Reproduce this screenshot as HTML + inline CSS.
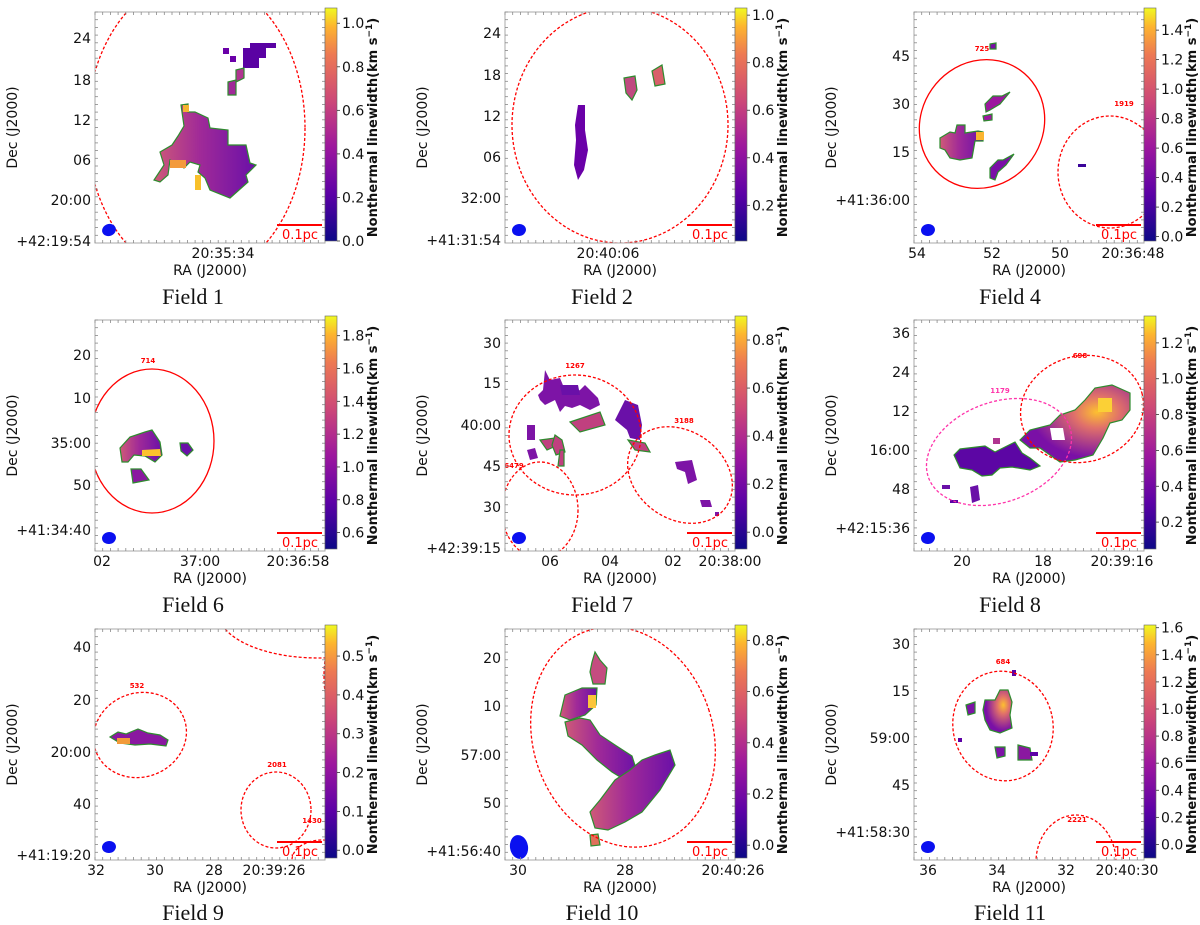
<!DOCTYPE html>
<html><head><meta charset="utf-8">
<style>
html,body{margin:0;padding:0;background:#fff;}
svg{display:block;}
text{font-family:"DejaVu Sans","Liberation Sans",sans-serif;}
.cap{font-family:"Liberation Serif",serif;font-size:22px;}
</style></head>
<body>
<svg id="fig" width="1200" height="925" viewBox="0 0 1200 925" xmlns="http://www.w3.org/2000/svg">
<defs>
<linearGradient id="plasma" x1="0" y1="1" x2="0" y2="0">
<stop offset="0" stop-color="#0d0887"/><stop offset="0.2" stop-color="#5c01a6"/>
<stop offset="0.4" stop-color="#9c179e"/><stop offset="0.6" stop-color="#cc4778"/>
<stop offset="0.8" stop-color="#ed7953"/><stop offset="0.92" stop-color="#fdb42f"/>
<stop offset="1" stop-color="#f0f921"/></linearGradient>
<linearGradient id="mixA" x1="0" y1="0" x2="1" y2="0">
<stop offset="0" stop-color="#cf5a78"/><stop offset="0.45" stop-color="#a02a98"/><stop offset="1" stop-color="#6a10a8"/></linearGradient>
<radialGradient id="hot" cx="0.7" cy="0.35" r="0.6">
<stop offset="0" stop-color="#fdc030"/><stop offset="0.35" stop-color="#e0706a"/><stop offset="1" stop-color="#7a10a6"/></radialGradient>
</defs>
<g id="root"></g>
</svg>
<script>
// ---------- data ----------
const fieldNames = ["Field 1","Field 2","Field 4","Field 6","Field 7","Field 8","Field 9","Field 10","Field 11"];
const yTickLabels = [
 ["24","18","12","06","20:00","+42:19:54"],
 ["24","18","12","06","32:00","+41:31:54"],
 ["45","30","15","+41:36:00"],
 ["20","10","35:00","50","+41:34:40"],
 ["30","15","40:00","45","30","+42:39:15"],
 ["36","24","12","16:00","48","+42:15:36"],
 ["40","20","20:00","40","+41:19:20"],
 ["20","10","57:00","50","+41:56:40"],
 ["30","15","59:00","45","+41:58:30"]];
const yTickPos = [
 [38,80,120,160,200,241],[33,75,116,157,198,240],[56,104,152,200],
 [355,398,443,485,530],[343,383,425,466,507,548],[333,372,411,450,489,528],
 [647,700,752,804,855],[658,706,755,803,851],[644,691,738,785,832]];
const xTickLabels = [["20:35:34"],["20:40:06"],["54","52","50","20:36:48"],
 ["02","37:00","20:36:58"],["06","04","02","20:38:00"],["20","18","20:39:16"],
 ["32","30","28","20:39:26"],["30","28","20:40:26"],["36","34","32","20:40:30"]];
const xTickPos = [[223],[608],[917,992,1060,1133],[102,200,298],[550,610,673,730],
 [962,1043,1122],[96,155,214,274],[518,625,733],[928,997,1066,1127]];
const cbarTicks = [
 [0.0,0.2,0.4,0.6,0.8,1.0],[0.2,0.4,0.6,0.8,1.0],[0.0,0.2,0.4,0.6,0.8,1.0,1.2,1.4],
 [0.6,0.8,1.0,1.2,1.4,1.6,1.8],[0.0,0.2,0.4,0.6,0.8],[0.2,0.4,0.6,0.8,1.0,1.2],
 [0.0,0.1,0.2,0.3,0.4,0.5],[0.0,0.2,0.4,0.6,0.8],[0.0,0.2,0.4,0.6,0.8,1.0,1.2,1.4,1.6]];
const cbarMin = [0.0,0.05,-0.03,0.5,-0.07,0.05,-0.02,-0.05,-0.1];
const cbarMax = [1.07,1.03,1.55,1.92,0.9,1.35,0.58,0.86,1.62];
const decimals = [1,1,1,1,1,1,1,1,1];

// ---------- geometry ----------
const colX = [95,505,914];
const rowY = [12,320,629];
const PW = 230, PH = 231;
const capY = [304,612,920];
const capX = [193,602,1010];

const root = document.getElementById('root');
const NS = "http://www.w3.org/2000/svg";
function mk(tag, attrs, parent){
  const e = document.createElementNS(NS, tag);
  for (const k in attrs) e.setAttribute(k, attrs[k]);
  (parent||root).appendChild(e);
  return e;
}
function txt(s, attrs, parent){ const t = mk('text', attrs, parent); t.textContent = s; return t; }

// blobs / ellipses per panel (absolute coords)
const overlays = [
 // Field 1
 {ell:[{cx:196,cy:128,rx:109,ry:150,rot:0,dash:true,c:"#f00"}],
  blobs:[
   {p:"223,48 229,48 229,54 223,54",f:"#6a00a8"},{p:"230,56 236,56 236,62 230,62",f:"#6a00a8"},
   {p:"243,48 250,48 250,43 276,43 276,48 266,48 266,58 259,58 259,68 243,68 243,56",f:"#5a02a3"},
   {p:"236,70 244,68 244,78 236,82",f:"#b03590",g:1},{p:"228,82 236,80 236,95 228,95",f:"#a02a98",g:1},
   {p:"181,105 188,104 188,112 195,112 208,118 210,128 228,130 228,145 246,145 250,163 256,165 246,175 248,182 230,198 210,190 205,178 198,172 200,165 190,162 184,168 170,160 168,175 160,182 154,180 164,165 160,152 172,145 178,136 184,126",f:"url(#mixA)",g:1},
   {p:"170,160 186,160 186,168 170,168",f:"#f39a3c"},{p:"195,175 201,175 201,190 195,190",f:"#f8c02a"},{p:"183,105 189,105 189,112 183,112",f:"#f4b530"}]},
 // Field 2
 {ell:[{cx:620,cy:125,rx:108,ry:118,rot:0,dash:true,c:"#f00"}],
  blobs:[
   {p:"578,105 585,105 585,130 588,150 584,170 578,180 574,165 576,140 575,125",f:"#6a00a8"},
   {p:"624,78 635,76 637,90 632,100 626,93",f:"#c04a80",g:1},
   {p:"652,71 662,65 665,84 655,86",f:"#d8606a",g:1}]},
 // Field 4
 {ell:[{cx:982,cy:124,rx:61,ry:66,rot:35,dash:false,c:"#f00"},{cx:1110,cy:172,rx:52,ry:56,rot:0,dash:true,c:"#f00"}],
  lab:[["725",982,51,"#f00"],["1919",1124,106,"#f00"]],
  blobs:[
   {p:"940,138 950,132 955,133 957,125 965,125 965,133 978,131 983,132 983,141 975,141 972,158 960,160 950,158 945,150 940,148",f:"url(#mixA)",g:1},
   {p:"976,132 984,132 984,140 976,140",f:"#fbb530"},
   {p:"985,104 993,96 1002,96 1010,92 1000,104 990,110 986,112",f:"#9c179e",g:1},
   {p:"983,116 992,114 992,120 984,121",f:"#9c179e",g:1},
   {p:"990,168 998,160 1003,160 1014,154 1006,165 998,172 995,180 990,178",f:"#7a10a6",g:1},
   {p:"990,44 996,43 996,49 990,49",f:"#7a10a6",g:1},{p:"1078,164 1086,164 1086,167 1078,167",f:"#3b049a"}]},
 // Field 6
 {ell:[{cx:152,cy:441,rx:62,ry:72,rot:0,dash:false,c:"#f00"}],
  lab:[["714",148,363,"#f00"]],
  blobs:[
   {p:"120,448 130,437 145,432 152,430 160,442 162,455 155,462 145,456 134,455 128,462 122,462",f:"url(#mixA)",g:1},
   {p:"142,450 160,449 161,456 142,456",f:"#fcc22c"},
   {p:"180,443 188,443 193,450 187,456 181,451",f:"#6a10a8",g:1},
   {p:"131,469 141,469 149,480 133,483",f:"#8a18a0",g:1}]},
 // Field 7
 {ell:[{cx:575,cy:435,rx:66,ry:60,rot:0,dash:true,c:"#f00"},{cx:680,cy:475,rx:56,ry:44,rot:35,dash:true,c:"#f00"},{cx:540,cy:510,rx:38,ry:48,rot:0,dash:true,c:"#f00"}],
  lab:[["1267",575,368,"#f00"],["3188",684,423,"#f00"],["6479",514,468,"#f00"]],
  blobs:[
   {p:"545,370 550,380 560,378 567,395 575,392 580,390 585,385 590,390 598,398 600,405 590,410 580,405 572,408 565,406 560,412 555,400 545,405 540,400 538,395 543,390",f:"#7d14a6"},
   {p:"560,385 578,385 580,395 562,395",f:"#6a10a8"},
   {p:"570,422 600,412 605,425 580,432",f:"#c0407f",g:1},
   {p:"540,440 555,438 558,445 547,450",f:"#c0407f",g:1},
   {p:"555,435 562,440 565,452 556,455 552,445",f:"#c0407f",g:1},
   {p:"527,425 535,425 535,440 527,440",f:"#7d14a6"},
   {p:"527,450 535,448 538,458 530,460",f:"#7d14a6"},
   {p:"625,400 638,405 642,425 640,440 630,438 627,430 615,420 620,410",f:"#6a10a8"},
   {p:"628,440 645,443 650,452 635,450",f:"#c0407f",g:1},
   {p:"675,462 692,460 697,480 688,484 685,472 677,469",f:"#7d14a6"},
   {p:"700,500 710,500 712,507 702,507",f:"#7d14a6"},{p:"715,512 719,512 719,516 715,516",f:"#7d14a6"},
   {p:"560,450 564,450 564,466 558,466",f:"#c0407f",g:1}]},
 // Field 8
 {ell:[{cx:999,cy:452,rx:75,ry:50,rot:-20,dash:true,c:"#ff33aa"},{cx:1082,cy:409,rx:62,ry:53,rot:-15,dash:true,c:"#f00"}],
  lab:[["1179",1000,393,"#ff33aa"],["698",1080,358,"#f00"]],
  blobs:[
   {p:"954,455 960,449 985,446 995,452 1005,447 1015,442 1022,453 1030,458 1040,466 1030,470 1012,467 1000,468 992,475 982,476 972,470 960,468",f:"#5c06a4",g:1},
   {p:"1020,440 1030,430 1050,425 1060,415 1075,410 1085,400 1095,388 1112,385 1130,393 1130,410 1122,420 1110,423 1103,438 1093,455 1075,460 1060,462 1050,455 1040,448 1030,448",f:"url(#hot)",g:1},
   {p:"1050,428 1063,428 1065,440 1052,440",f:"#ffffff"},
   {p:"1098,398 1112,398 1112,412 1098,412",f:"#fbd036"},
   {p:"993,438 1000,438 1000,444 993,444",f:"#b03590"},
   {p:"970,487 978,485 980,500 972,503",f:"#6a10a8"},{p:"942,485 950,485 950,489 942,489",f:"#6a10a8"},
   {p:"950,500 958,500 958,503 950,503",f:"#5c01a6"}]},
 // Field 9
 {ell:[{cx:140,cy:735,rx:47,ry:42,rot:-20,dash:true,c:"#f00"},{cx:276,cy:810,rx:35,ry:38,rot:0,dash:true,c:"#f00"},{cx:322,cy:860,rx:30,ry:20,rot:0,dash:true,c:"#f00"},{cx:318,cy:612,rx:100,ry:46,rot:0,dash:true,c:"#f00"},{cx:334,cy:676,rx:10,ry:36,rot:0,dash:true,c:"#f00"}],
  lab:[["532",137,688,"#f00"],["2081",277,767,"#f00"],["1430",312,823,"#f00"]],
  blobs:[
   {p:"110,737 118,732 126,734 138,729 148,733 160,735 168,740 166,746 150,744 135,745 120,743",f:"#8a18a0",g:1},
   {p:"117,738 130,738 130,744 117,744",f:"#f29b3a"}]},
 // Field 10
 {ell:[{cx:623,cy:737,rx:90,ry:112,rot:-18,dash:true,c:"#f00"}],
  lab:[],
  blobs:[
   {p:"595,652 600,660 607,668 605,684 593,684 590,672 592,662",f:"#c44c80",g:1},
   {p:"565,695 582,688 597,688 596,705 585,715 570,720 560,716",f:"url(#mixA)",g:1},
   {p:"588,695 596,695 596,708 588,708",f:"#fbc53a"},
   {p:"565,722 580,718 590,720 600,735 615,745 632,756 638,775 625,780 612,772 597,760 582,745 568,736",f:"url(#mixA)",g:1},
   {p:"620,780 637,780 640,790 624,792",f:"#3b049a"},
   {p:"600,800 615,780 630,770 642,760 655,755 670,750 675,765 660,790 642,812 625,822 608,830 595,828 590,812",f:"url(#mixA)",g:1},
   {p:"590,835 598,834 600,845 591,846",f:"#e0705a",g:1}]},
 // Field 11
 {ell:[{cx:1003,cy:726,rx:50,ry:55,rot:-12,dash:true,c:"#f00"},{cx:1076,cy:862,rx:40,ry:47,rot:0,dash:true,c:"#f00"}],
  lab:[["684",1003,664,"#f00"],["2221",1077,822,"#f00"]],
  blobs:[
   {p:"985,700 995,700 1000,690 1008,690 1012,702 1010,715 1012,728 1000,733 990,730 985,720 983,710",f:"url(#hot)",g:1},
   {p:"966,705 975,702 975,713 968,715",f:"#7d14a6",g:1},
   {p:"995,747 1005,747 1005,756 997,758",f:"#7d14a6",g:1},
   {p:"1018,745 1030,748 1032,760 1018,760",f:"#8a18a0",g:1},
   {p:"1030,752 1038,752 1038,756 1030,756",f:"#5c01a6"},
   {p:"958,738 962,738 962,742 958,742",f:"#5c01a6"},
   {p:"1012,670 1016,670 1016,676 1012,676",f:"#5c01a6"}]}
];

function plasmaColor(){return null;}

for (let i=0;i<9;i++){
  const c = i%3, r = Math.floor(i/3);
  const x0 = colX[c], y0 = rowY[r], x1 = x0+PW, y1 = y0+PH;
  const g = mk('g', {});
  
  
  const clipId = 'clip'+i;
  const cp = mk('clipPath',{id:clipId}, g);
  mk('rect',{x:x0,y:y0,width:PW,height:PH},cp);
  const plot = mk('g',{'clip-path':'url(#'+clipId+')'},g);
  
  
  const ov = overlays[i];
  ov.blobs.forEach(b=>{
    const p = mk('polygon',{points:b.p,fill:b.f,stroke:b.g?"#2e8b2e":"none","stroke-width":b.g?1.2:0},plot);
    
    
  });
  ov.ell.forEach(e=>{
    const el = mk('ellipse',{cx:e.cx,cy:e.cy,rx:e.rx,ry:e.ry,fill:"none",stroke:e.c,"stroke-width":1.3,
      "stroke-dasharray":e.dash?"3,2":"none",transform:`rotate(${e.rot} ${e.cx} ${e.cy})`},plot);
    
    
  });
  (ov.lab||[]).forEach(l=>{
    const t = txt(l[0],{x:l[1],y:l[2],fill:l[3],"font-size":7,"font-weight":"bold","text-anchor":"middle"},plot);
    
    
  });
  // beam
  const beam = mk('ellipse',{cx:x0+14,cy:y1-13,rx:c===1&&r===2?9:7,ry:c===1&&r===2?12:6,fill:"#0a10f0",transform:`rotate(${c===0&&r===0?-20:-10} ${x0+14} ${y1-13})`},plot);
  
  
  // scale bar
  const sb = mk('line',{x1:x1-48,y1:y1-18,x2:x1-3,y2:y1-18,stroke:"#f00","stroke-width":2},plot);
  
  
  const sbt = txt("0.1pc",{x:x1-25,y:y1-4,fill:"#f00","font-size":13,"text-anchor":"middle"},plot);
  
  
  // frame
  const fr = mk('rect',{x:x0,y:y0,width:PW,height:PH,fill:"none",stroke:"#aaa","stroke-width":1},g);
  
  
  // minor ticks
  for (let k=0;k<=PW;k+=7.7){
    mk('line',{x1:x0+k,y1:y0,x2:x0+k,y2:y0+3,stroke:"#888","stroke-width":0.8},g);
    mk('line',{x1:x0+k,y1:y1,x2:x0+k,y2:y1-3,stroke:"#888","stroke-width":0.8},g);
    mk('line',{x1:x0,y1:y0+k,x2:x0+3,y2:y0+k,stroke:"#888","stroke-width":0.8},g);
    mk('line',{x1:x1,y1:y0+k,x2:x1-3,y2:y0+k,stroke:"#888","stroke-width":0.8},g);
  }
  // y ticks
  yTickLabels[i].forEach((s,k)=>{
    const t = txt(s,{x:x0-4,y:yTickPos[i][k]+5,"font-size":14,"text-anchor":"end",fill:"#111"},g);
    
    
  });
  xTickLabels[i].forEach((s,k)=>{
    const t = txt(s,{x:xTickPos[i][k],y:y1+15,"font-size":14,"text-anchor":"middle",fill:"#111"},g);
    
    
  });
  const xt = txt("RA (J2000)",{x:x0+PW/2,y:y1+32,"font-size":14,"text-anchor":"middle",fill:"#111"},g);
  
  
  const yt = txt("Dec (J2000)",{x:0,y:0,"font-size":14,"text-anchor":"middle",fill:"#111",transform:`translate(${x0-78},${y0+PH/2}) rotate(-90)`},g);
  
  
  // colorbar
  const cbx = x1, cbw = 12, cbTop = y0-4, cbBot = y1-2;
  const cb = mk('rect',{x:cbx,y:cbTop,width:cbw,height:cbBot-cbTop,fill:"url(#plasma)",stroke:"#666","stroke-width":0.6},g);
  
  
  const vy = v => cbBot - (v-cbarMin[i])/(cbarMax[i]-cbarMin[i])*(cbBot-cbTop);
  cbarTicks[i].forEach(v=>{
    mk('line',{x1:cbx+cbw,y1:vy(v),x2:cbx+cbw+3,y2:vy(v),stroke:"#333","stroke-width":0.8},g);
    const t = txt(v.toFixed(decimals[i]),{x:cbx+cbw+5,y:vy(v)+5,"font-size":14,fill:"#111"},g);
    
    
  });
  const cl = mk('text',{x:0,y:0,"font-size":13,"font-weight":"bold","text-anchor":"middle",fill:"#111",transform:`translate(${cbx+52},${y0+PH/2}) rotate(-90)`},g);
  
  
  cl.textContent = "Nonthermal linewidth(km s";
  const sup = document.createElementNS(NS,'tspan');
  sup.setAttribute('font-size','9'); sup.setAttribute('dy','-5');
  sup.textContent = "\u22121"; cl.appendChild(sup);
  const cls = document.createElementNS(NS,'tspan');
  cls.setAttribute('dy','5'); cls.textContent = ")"; cl.appendChild(cls);
  // caption
  const cap = txt(fieldNames[i],{x:capX[c],y:capY[r],"class":"cap","text-anchor":"middle",fill:"#111"},g);
  
  
}
</script>
</body></html>
